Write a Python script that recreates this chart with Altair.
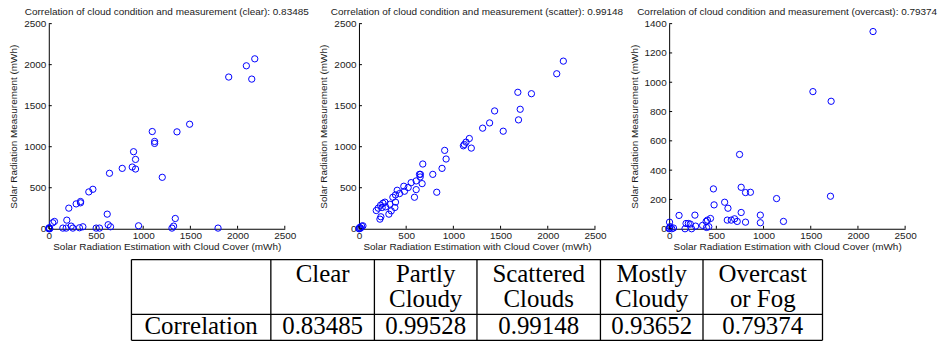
import altair as alt
import pandas as pd

# ---------------- data ----------------
clear_est = [0, 5, 10, 3, 42, 60, 191, 149, 184, 237, 255, 212, 290, 336, 336, 325, 361,
             424, 467, 502, 537, 619, 629, 654, 643, 778, 884, 898, 919, 919, 951, 1096,
             1121, 1121, 1202, 1305, 1322, 1340, 1358, 1492, 1793, 1906, 2093, 2150, 2182]
clear_meas = [0, 5, 0, 12, 73, 89, 105, 8, 8, 32, 8, 251, 303, 332, 316, 12, 24,
              449, 481, 8, 8, 178, 49, 24, 676, 736, 752, 939, 845, 728, 36, 1185,
              1064, 1040, 627, 8, 32, 125, 1181, 1274, 8, 1849, 1986, 1824, 2071]

scatter_est = [0, 7, 18, 5, 28, 42, 183, 204, 222, 232, 229, 246, 254, 275, 282, 317, 327,
               342, 359, 380, 387, 387, 405, 430, 475, 482, 521, 553, 588, 606, 606, 641,
               648, 651, 669, 676, 782, 824, 880, 908, 923, 1106, 1116, 1134, 1169, 1190,
               1310, 1384, 1437, 1528, 1683, 1690, 1708, 1827, 2095, 2165]
scatter_meas = [0, 16, 8, 3, 32, 36, 222, 251, 117, 146, 287, 259, 311, 324, 267, 178, 299,
                218, 384, 259, 324, 413, 469, 429, 518, 457, 502, 562, 384, 477, 583, 663,
                631, 663, 550, 789, 663, 445, 736, 955, 850, 1011, 1027, 1056, 1100, 983,
                1226, 1290, 1436, 1189, 1663, 1327, 1456, 1646, 1889, 2043]

overcast_est = [0, 4, 10, 4, 46, 28, 105, 179, 168, 203, 224, 238, 273, 280, 354, 392, 406,
                396, 420, 438, 469, 476, 588, 623, 616, 658, 693, 721, 746, 763, 763, 809,
                809, 861, 966, 966, 1138, 1211, 1523, 1716, 1709, 2160]
overcast_meas = [0, 5, 14, 45, 5, 0, 91, 36, 0, 36, 32, 0, 93, 18, 23, 50, 59,
                 9, 14, 70, 272, 163, 181, 140, 59, 59, 68, 50, 507, 283, 111, 247,
                 45, 249, 93, 41, 206, 50, 936, 870, 222, 1346]

panel_titles = [
    "Correlation of cloud condition and measurement (clear): 0.83485",
    "Correlation of cloud condition and measurement (scatter): 0.99148",
    "Correlation of cloud condition and measurement (overcast): 0.79374",
]
x_title = "Solar Radiation Estimation with Cloud Cover (mWh)"
y_title = "Solar Radiation Measurement (mWh)"

x_ticks = [0, 500, 1000, 1500, 2000, 2500]
y_ticks_a = [0, 500, 1000, 1500, 2000, 2500]
y_ticks_b = [0, 200, 400, 600, 800, 1000, 1200, 1400]

header_line1 = ["", "Clear", "Partly", "Scattered", "Mostly", "Overcast"]
header_line2 = ["", "", "Cloudy", "Clouds", "Cloudy", "or Fog"]
row_label = ["Correlation"]
corr_values = ["0.83485", "0.99528", "0.99148", "0.93652", "0.79374"]

# ---------------- layout constants ----------------
PLOT_W, PLOT_H = 237, 206
TICK_LEN = 3
COL_W = [140, 104, 103, 124, 103, 120]
HEADER_H, VALUE_H = 55, 26
LINE1_BASE, LINE2_BASE, VALUE_BASE = 22, 48, 75
TABLE_W = sum(COL_W)
TABLE_H = HEADER_H + VALUE_H
TABLE_LEFT = 83   # offset of the table from the left edge of the first plot area

FONT = "Liberation Sans"
TXT = "#1a1a1a"


def panel(xs, ys, title, ymax, yticks):
    df = pd.DataFrame({"est": xs, "meas": ys})
    xsc = alt.Scale(domain=[0, 2500], nice=False, zero=False)
    ysc = alt.Scale(domain=[0, ymax], nice=False, zero=False)
    xax = alt.Axis(title=x_title, values=x_ticks, format="d", labelFlush=False,
                   labelOverlap=False, ticks=False, labelPadding=2, titlePadding=1)
    yax = alt.Axis(title=y_title, values=yticks, format="d", ticks=False,
                   labelOverlap=False, labelPadding=3, titlePadding=5)
    pts = alt.Chart(df).mark_point(
        shape="circle", filled=False, color="#0000ff", size=40, strokeWidth=1, opacity=1
    ).encode(
        x=alt.X("est:Q", scale=xsc, axis=xax),
        y=alt.Y("meas:Q", scale=ysc, axis=yax),
    )
    xt = alt.Chart(pd.DataFrame({"est": x_ticks})).mark_rule(color="#000", strokeWidth=1).encode(
        x=alt.X("est:Q", scale=xsc, axis=xax),
        y=alt.value(PLOT_H), y2=alt.value(PLOT_H - TICK_LEN),
    )
    yt = alt.Chart(pd.DataFrame({"meas": yticks})).mark_rule(color="#000", strokeWidth=1).encode(
        y=alt.Y("meas:Q", scale=ysc, axis=yax),
        x=alt.value(0), x2=alt.value(TICK_LEN),
    )
    return alt.layer(pts, xt, yt).properties(
        width=PLOT_W, height=PLOT_H,
        title=alt.TitleParams(title, font=FONT, fontSize=10, fontWeight="normal",
                              color=TXT, anchor="middle", frame="group", offset=2),
    )


p1 = panel(clear_est, clear_meas, panel_titles[0], 2500, y_ticks_a)
p2 = panel(scatter_est, scatter_meas, panel_titles[1], 2500, y_ticks_a)
p3 = panel(overcast_est, overcast_meas, panel_titles[2], 1400, y_ticks_b)

top = alt.hconcat(p1, p2, p3, spacing=74.5, bounds="flush")

# ---------------- table ----------------
edges = [0]
for w in COL_W:
    edges.append(edges[-1] + w)
centers = [(edges[i] + edges[i + 1]) / 2 for i in range(len(COL_W))]

texts = []
for i, c in enumerate(centers):
    if header_line1[i]:
        texts.append({"cx": c, "by": LINE1_BASE, "label": header_line1[i]})
    if header_line2[i]:
        texts.append({"cx": c, "by": LINE2_BASE, "label": header_line2[i]})
row_cells = row_label + corr_values
for i, c in enumerate(centers):
    texts.append({"cx": c, "by": VALUE_BASE, "label": row_cells[i]})
texts_df = pd.DataFrame(texts)

tx = alt.Scale(domain=[-TABLE_LEFT, TABLE_W], nice=False, zero=False)
ty = alt.Scale(domain=[0, TABLE_H], nice=False, zero=False, reverse=True)

vlines = pd.DataFrame({"x": edges, "y0": [0] * len(edges), "y1": [TABLE_H] * len(edges)})
hlines = pd.DataFrame({"y": [0, HEADER_H, TABLE_H], "x0": [0] * 3, "x1": [TABLE_W] * 3})

vl = alt.Chart(vlines).mark_rule(color="#000", strokeWidth=1.3).encode(
    x=alt.X("x:Q", scale=tx, axis=None),
    y=alt.Y("y0:Q", scale=ty, axis=None), y2="y1:Q",
)
hl = alt.Chart(hlines).mark_rule(color="#000", strokeWidth=1.3).encode(
    y=alt.Y("y:Q", scale=ty, axis=None),
    x=alt.X("x0:Q", scale=tx, axis=None), x2="x1:Q",
)
tt = alt.Chart(texts_df).mark_text(
    font="Liberation Serif", fontSize=25, baseline="alphabetic", align="center", color="#000"
).encode(
    x=alt.X("cx:Q", scale=tx, axis=None),
    y=alt.Y("by:Q", scale=ty, axis=None),
    text="label:N",
)
table = alt.layer(hl, vl, tt).properties(width=TABLE_LEFT + TABLE_W, height=TABLE_H)

chart = alt.vconcat(top, table, spacing=7).properties(
    padding={"left": 8, "top": 6, "right": 0, "bottom": 0}
).configure_view(stroke=None).configure_axis(
    domainColor="#000", domainWidth=1, grid=False,
    labelFont=FONT, labelFontSize=10, labelColor=TXT,
    titleFont=FONT, titleFontSize=10, titleFontWeight="normal", titleColor=TXT,
)

chart.save("out.html", embed_options={"renderer": "svg", "actions": False})
